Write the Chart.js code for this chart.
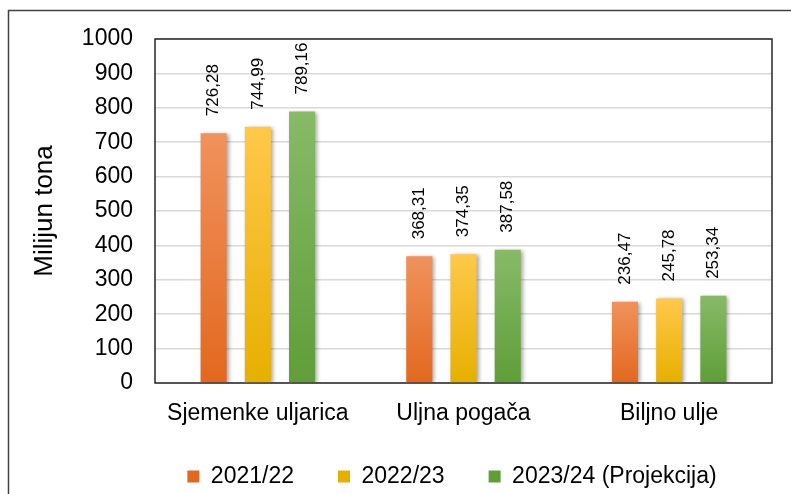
<!DOCTYPE html>
<html>
<head>
<meta charset="utf-8">
<style>
  html, body { margin: 0; padding: 0; background: #fff; }
  #wrap { width: 791px; height: 494px; position: relative; }
</style>
<script src="https://cdn.jsdelivr.net/npm/chart.js@4/dist/chart.umd.min.js"></script>
</head>
<body>
<div id="wrap"><canvas id="chart"></canvas></div>
<script>
const categories = ["Sjemenke uljarica", "Uljna pogača", "Biljno ulje"];
const seriesNames = ["2021/22", "2022/23", "2023/24 (Projekcija)"];
const values2122 = [726.28, 368.31, 236.47];
const values2223 = [744.99, 374.35, 245.78];
const values2324 = [789.16, 387.58, 253.34];
const yTicks = [0, 100, 200, 300, 400, 500, 600, 700, 800, 900, 1000];

const FONT = "'Liberation Sans', Arial, sans-serif";

// top / bottom colours of each bar gradient
const shades = [
    ["#f0925c", "#e3681f"],
    ["#ffc84a", "#e6b000"],
    ["#88ba67", "#5f9e38"]
];

function barFill(idx) {
    return function(ctx) {
        const chart = ctx.chart;
        if (!chart.chartArea || ctx.raw === undefined) return shades[idx][1];
        const y = chart.scales.y;
        const top = y.getPixelForValue(ctx.raw);
        const bottom = y.getPixelForValue(0);
        const g = chart.ctx.createLinearGradient(0, top, 0, bottom);
        g.addColorStop(0, shades[idx][0]);
        g.addColorStop(1, shades[idx][1]);
        return g;
    };
}

const shadowPlugin = {
    id: "barShadow",
    beforeDatasetsDraw(chart) {
        const a = chart.chartArea, c = chart.ctx;
        c.save();
        c.strokeStyle = "#262626";
        c.lineWidth = 1.5;
        c.strokeRect(a.left, a.top, a.right - a.left, a.bottom - a.top);
        c.restore();
        c.save();
        c.shadowColor = "rgba(0,0,0,0.35)";
        c.shadowBlur = 4;
        c.shadowOffsetX = 2;
        c.shadowOffsetY = 1;
    },
    afterDatasetsDraw(chart) {
        chart.ctx.restore();
        const c = chart.ctx;
        c.save();
        c.fillStyle = "#000";
        c.font = "17px " + FONT;
        c.textAlign = "left";
        c.textBaseline = "middle";
        chart.data.datasets.forEach((ds, i) => {
            chart.getDatasetMeta(i).data.forEach((bar, j) => {
                const txt = ds.data[j].toFixed(2).replace(".", ",");
                c.save();
                c.translate(bar.x, bar.y - 17);
                c.rotate(-Math.PI / 2);
                c.fillText(txt, 0, 0);
                c.restore();
            });
        });
        c.restore();
    },
    afterDraw(chart) {
        const c = chart.ctx;
        c.save();
        c.strokeStyle = "#404040";
        c.lineWidth = 1.5;
        c.beginPath();
        c.moveTo(8.5, chart.height);
        c.lineTo(8.5, 10.5);
        c.lineTo(chart.width, 10.5);
        c.stroke();
        c.restore();
    }
};

// the legend sits off-centre in the original
const legendShift = {
    id: "legendShift",
    afterLayout(chart) {
        chart.legend.left += 66;
        chart.legend.right += 66;
        chart.legend.top -= 16;
        chart.legend.bottom -= 16;
    }
};

new Chart(document.getElementById("chart"), {
    type: "bar",
    data: {
        labels: categories,
        datasets: [
            { label: seriesNames[0], data: values2122, backgroundColor: barFill(0) },
            { label: seriesNames[1], data: values2223, backgroundColor: barFill(1) },
            { label: seriesNames[2], data: values2324, backgroundColor: barFill(2) }
        ]
    },
    options: {
        responsive: true,
        maintainAspectRatio: false,
        animation: false,
        categoryPercentage: 0.645,
        barPercentage: 0.59,
        layout: { padding: { top: 39, right: 19, left: 0, bottom: -20 } },
        scales: {
            x: {
                grid: { display: false, drawTicks: false },
                border: { display: false },
                ticks: { color: "#000", font: { family: FONT, size: 23 }, padding: 17, maxRotation: 0 },
                afterFit(s) { s.height = 54; }
            },
            y: {
                min: 0,
                max: 1000,
                afterBuildTicks(s) { s.ticks = yTicks.map(v => ({ value: v })); },
                grid: { color: "#d9d9d9", lineWidth: 1.5, drawTicks: false },
                border: { display: false },
                ticks: {
                    color: "#000",
                    font: { family: FONT, size: 23 },
                    padding: 22,
                    callback: v => String(v)
                },
                title: {
                    display: true,
                    text: "Milijun tona",
                    color: "#000",
                    font: { family: FONT, size: 26 },
                    padding: { top: 29, bottom: 0 }
                },
                afterFit(s) { s.width = 155; }
            }
        },
        plugins: {
            legend: {
                position: "bottom",
                labels: {
                    color: "#000",
                    font: { family: FONT, size: 23 },
                    boxWidth: 12,
                    boxHeight: 12,
                    padding: 44
                }
            },
            tooltip: { enabled: false }
        }
    },
    plugins: [shadowPlugin, legendShift]
});
</script>
</body>
</html>
